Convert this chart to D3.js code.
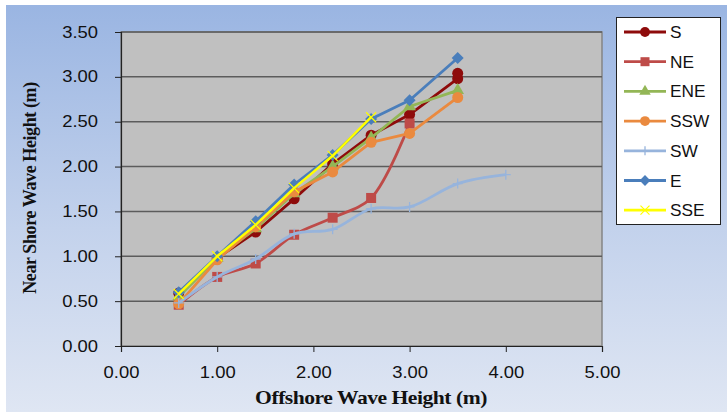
<!DOCTYPE html>
<html lang="en">
<head>
    <meta charset="UTF-8">
    <title>Near Shore vs Offshore Wave Height</title>
    <script src="https://d3js.org/d3.v7.min.js"></script>
    <style>
        body { margin: 0; background: #fff; }
        svg { display: block; }
        .tick text { font-family: "Liberation Sans", Arial, sans-serif; font-size: 16px; fill: #111; }
        .title { font-family: "Liberation Serif", "Times New Roman", serif; font-weight: bold; fill: #111; }
        .legend text { font-family: "Liberation Sans", Arial, sans-serif; font-size: 16px; fill: #111; }
    </style>
</head>
<body>
    <svg width="727" height="417"></svg>
    <script>
        const width = 727;
        const height = 417;
        const svg = d3.select("svg");

        // data
        const xTicks = [0, 1, 2, 3, 4, 5];
        const yTicks = [0, 0.5, 1, 1.5, 2, 2.5, 3, 3.5];

        const sX = [0.6, 1.0, 1.4, 1.8, 2.2, 2.6, 3.0, 3.5, 3.5];
        const sY = [0.59, 0.98, 1.27, 1.64, 2.03, 2.35, 2.58, 2.98, 3.04];
        const neX = [0.6, 1.0, 1.4, 1.8, 2.2, 2.6, 3.0];
        const neY = [0.46, 0.77, 0.92, 1.24, 1.43, 1.65, 2.48];
        const eneX = [0.6, 1.0, 1.4, 1.8, 2.2, 2.6, 3.0, 3.5];
        const eneY = [0.55, 0.98, 1.31, 1.70, 2.00, 2.32, 2.67, 2.85];
        const sswX = [0.6, 1.0, 1.4, 1.8, 2.2, 2.6, 3.0, 3.5];
        const sswY = [0.47, 0.96, 1.33, 1.72, 1.94, 2.27, 2.37, 2.77];
        const swX = [0.6, 1.0, 1.4, 1.8, 2.2, 2.6, 3.0, 3.5, 4.0];
        const swY = [0.48, 0.77, 0.97, 1.25, 1.30, 1.53, 1.55, 1.81, 1.91];
        const eX = [0.6, 1.0, 1.4, 1.8, 2.2, 2.6, 3.0, 3.5];
        const eY = [0.60, 1.00, 1.39, 1.80, 2.13, 2.53, 2.74, 3.21];
        const sseX = [0.6, 1.0, 1.4, 1.8, 2.2, 2.6];
        const sseY = [0.58, 1.00, 1.35, 1.76, 2.12, 2.55];

        const series = [
            { name: "S",   xs: sX,   ys: sY,   color: "#8e0b0b", marker: "circle",  smooth: false },
            { name: "NE",  xs: neX,  ys: neY,  color: "#be4b48", marker: "square",  smooth: true },
            { name: "ENE", xs: eneX, ys: eneY, color: "#93b656", marker: "triangle", smooth: false },
            { name: "SSW", xs: sswX, ys: sswY, color: "#ea8a3f", marker: "circle",  smooth: false },
            { name: "SW",  xs: swX,  ys: swY,  color: "#97b4dc", marker: "plus",    smooth: true },
            { name: "E",   xs: eX,   ys: eY,   color: "#4a7ebb", marker: "diamond", smooth: false },
            { name: "SSE", xs: sseX, ys: sseY, color: "#ffff00", marker: "cross",   smooth: false }
        ];

        const plot = { left: 121, top: 32, right: 602, bottom: 346 };
        const stretch = 1.15;

        // background gradient
        const defs = svg.append("defs");
        const grad = defs.append("linearGradient")
            .attr("id", "bg").attr("x1", 0).attr("y1", 0).attr("x2", 0).attr("y2", 1);
        grad.append("stop").attr("offset", "0%").attr("stop-color", "#9ab5e2");
        grad.append("stop").attr("offset", "55%").attr("stop-color", "#c3d2ec");
        grad.append("stop").attr("offset", "100%").attr("stop-color", "#dfe6f3");

        svg.append("rect")
            .attr("x", 6).attr("y", 5)
            .attr("width", width - 6).attr("height", 407)
            .attr("fill", "url(#bg)");

        const x = d3.scaleLinear().domain([0, 5]).range([plot.left, plot.right]);
        const y = d3.scaleLinear().domain([0, 3.5]).range([plot.bottom, plot.top]);

        // plot area
        svg.append("rect")
            .attr("x", plot.left).attr("y", plot.top)
            .attr("width", plot.right - plot.left).attr("height", plot.bottom - plot.top)
            .attr("fill", "#c0c0c0")
            .attr("stroke", "#858585")
            .attr("stroke-width", 1.5);

        // gridlines
        svg.append("g")
            .selectAll("line")
            .data(yTicks.filter(d => d > 0))
            .enter().append("line")
            .attr("x1", plot.left).attr("x2", plot.right)
            .attr("y1", d => y(d)).attr("y2", d => y(d))
            .attr("stroke", "#5c5c5c")
            .attr("stroke-width", 1.5);

        // axes
        const yAxis = svg.append("g")
            .attr("transform", `translate(${plot.left},0)`)
            .call(d3.axisLeft(y).tickValues(yTicks).tickSize(6).tickPadding(14).tickFormat(d3.format(".2f")));
        const xAxis = svg.append("g")
            .attr("transform", `translate(0,${plot.bottom})`)
            .call(d3.axisBottom(x).tickValues(xTicks).tickSize(6).tickPadding(15).tickFormat(d3.format(".2f")));

        [yAxis, xAxis].forEach(ax => {
            ax.select(".domain").attr("stroke", "#222").attr("stroke-width", 1.2);
            ax.selectAll(".tick line").attr("stroke", "#222");
            ax.selectAll(".tick text").attr("font-size", null).attr("font-family", null);
        });
        yAxis.selectAll(".tick text").attr("transform", `scale(${stretch},1)`);
        xAxis.selectAll(".tick text").attr("transform", `scale(${stretch},1)`);

        // axis titles
        svg.append("text")
            .attr("class", "title")
            .attr("transform", `translate(371,404) scale(1.2,1)`)
            .attr("text-anchor", "middle")
            .style("font-size", "18px")
            .style("letter-spacing", "-0.4px")
            .text("Offshore Wave Height (m)");

        svg.append("text")
            .attr("class", "title")
            .attr("transform", `translate(36,${(plot.top + plot.bottom) / 2 - 1}) rotate(-90)`)
            .attr("text-anchor", "middle")
            .style("font-size", "18px")
            .style("letter-spacing", "-0.4px")
            .text("Near Shore Wave Height (m)");

        // markers
        function drawMarker(g, type, color, size) {
            const s = size;
            if (type === "circle") {
                g.append("circle").attr("r", s * 0.55).attr("fill", color);
            } else if (type === "square") {
                g.append("rect").attr("x", -s / 2).attr("y", -s / 2)
                    .attr("width", s).attr("height", s).attr("fill", color);
            } else if (type === "triangle") {
                g.append("path").attr("d", d3.symbol(d3.symbolTriangle, s * s * 0.7)).attr("fill", color);
            } else if (type === "diamond") {
                g.append("path").attr("d", `M0,${-s * 0.6}L${s * 0.6},0L0,${s * 0.6}L${-s * 0.6},0Z`).attr("fill", color);
            } else if (type === "plus") {
                g.append("path").attr("d", `M${-s / 2},0H${s / 2}M0,${-s / 2}V${s / 2}`)
                    .attr("stroke", color).attr("stroke-width", 1.3).attr("fill", "none");
            } else if (type === "cross") {
                g.append("path").attr("d", `M${-s / 2},${-s / 2}L${s / 2},${s / 2}M${s / 2},${-s / 2}L${-s / 2},${s / 2}`)
                    .attr("stroke", color).attr("stroke-width", 1.2).attr("fill", "none");
            }
        }

        const lineGroup = svg.append("g");
        series.forEach(s => {
            const pts = s.xs.map((v, i) => [v, s.ys[i]]);
            const line = d3.line()
                .x(d => x(d[0]))
                .y(d => y(d[1]))
                .curve(s.smooth ? d3.curveCatmullRom.alpha(0.5) : d3.curveLinear);
            const g = lineGroup.append("g");
            g.append("path")
                .datum(pts)
                .attr("d", line)
                .attr("fill", "none")
                .attr("stroke", s.color)
                .attr("stroke-width", s.name === "SSE" ? 2.5 : 2.8)
                .attr("stroke-linejoin", "round");
            g.selectAll("g.mk")
                .data(pts)
                .enter().append("g")
                .attr("class", "mk")
                .attr("transform", d => `translate(${x(d[0])},${y(d[1])})`)
                .each(function () { drawMarker(d3.select(this), s.marker, s.color, 10); });
        });

        // legend
        const legend = svg.append("g").attr("class", "legend");
        legend.append("rect")
            .attr("x", 616.5).attr("y", 17.5)
            .attr("width", 104).attr("height", 207)
            .attr("fill", "#fff")
            .attr("stroke", "#222")
            .attr("stroke-width", 1);

        const item = legend.selectAll("g.item")
            .data(series)
            .enter().append("g")
            .attr("class", "item")
            .attr("transform", (d, i) => `translate(624,${32 + i * 29.7})`);
        item.append("line")
            .attr("x1", 0).attr("x2", 42)
            .attr("stroke", d => d.color)
            .attr("stroke-width", 2.8);
        item.each(function (d) {
            const g = d3.select(this).append("g").attr("transform", "translate(21,0)");
            drawMarker(g, d.marker, d.color, 9);
        });
        item.append("text")
            .attr("transform", "translate(46,6) scale(1.08,1)")
            .text(d => d.name);
    </script>
</body>
</html>
